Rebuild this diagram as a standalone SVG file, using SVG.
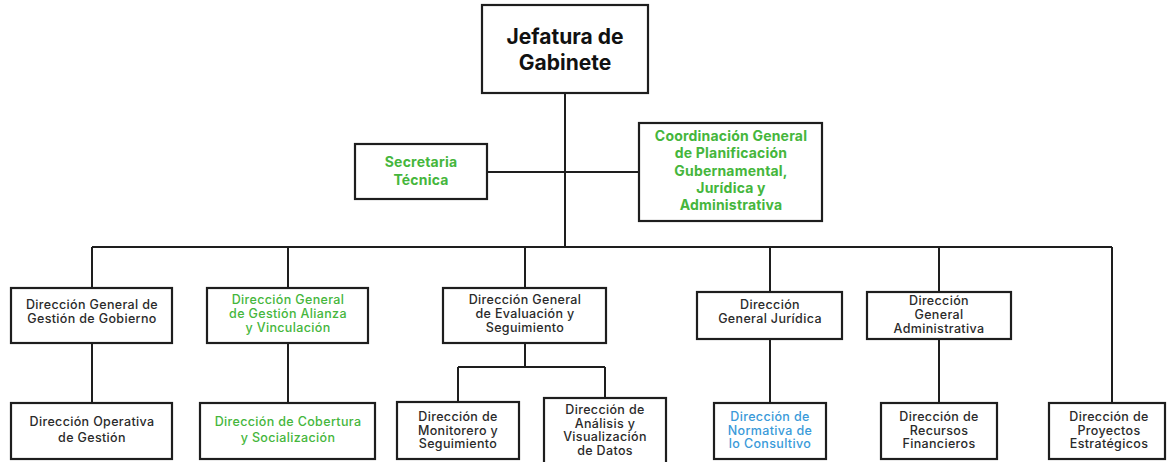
<svg xmlns="http://www.w3.org/2000/svg" width="1167" height="462" viewBox="0 0 1167 462">
<style>
.box{fill:#fff;stroke:#1e1e1e;stroke-width:2.2}
.ln{fill:none;stroke:#1e1e1e;stroke-width:2}
text{font-family:Inter,"Open Sans","Liberation Sans",sans-serif;text-anchor:middle;font-size:12.5px;letter-spacing:0.35px;fill:#2a2a2a;font-weight:500}
.title{font-size:21px;font-weight:700;fill:#111;letter-spacing:0}
.g{fill:#45b63c}
.gb{fill:#45b63c;font-weight:700;font-size:14px;letter-spacing:0.2px}
.b{fill:#3a9ad9}
</style>
<rect width="1167" height="462" fill="#fff"/>
<g id="connectors">
<path class="ln" d="M565 93V247M487 172H639M92 247H1112M92 247V288M288 247V288M525 247V288M770 247V292M939 247V292M1112 247V403"/>
<path class="ln" d="M92 343V403M288 343V403M525 343V367M458 367H605M458 367V402M605 367V398M770 339V403M939 339V403"/>
</g>
<g id="jefatura"><rect class="box" x="482" y="5" width="166" height="88"/><text class="title" x="565" y="44">Jefatura de</text><text class="title" x="565" y="70">Gabinete</text></g>
<g id="secretaria"><rect class="box" x="355" y="144" width="132" height="55"/><text class="gb" x="421" y="167">Secretaria</text><text class="gb" x="421" y="185">Técnica</text></g>
<g id="coordinacion"><rect class="box" x="639" y="123" width="183" height="98"/><text class="gb" x="731" y="141">Coordinación General</text><text class="gb" x="731" y="158">de Planificación</text><text class="gb" x="731" y="176">Gubernamental,</text><text class="gb" x="731" y="193">Jurídica y</text><text class="gb" x="731" y="210">Administrativa</text></g>
<g id="dg-gobierno"><rect class="box" x="11" y="288" width="161" height="55"/><text x="92" y="309">Dirección General de</text><text x="92" y="323">Gestión de Gobierno</text></g>
<g id="dg-alianza"><rect class="box" x="207" y="288" width="161" height="55"/><text class="g" x="288" y="304">Dirección General</text><text class="g" x="288" y="318">de Gestión Alianza</text><text class="g" x="288" y="332">y Vinculación</text></g>
<g id="dg-evaluacion"><rect class="box" x="443" y="288" width="163" height="55"/><text x="525" y="304">Dirección General</text><text x="525" y="318">de Evaluación y</text><text x="525" y="332">Seguimiento</text></g>
<g id="dg-juridica"><rect class="box" x="697" y="292" width="145" height="47"/><text x="770" y="309">Dirección</text><text x="770" y="323">General Jurídica</text></g>
<g id="dg-administrativa"><rect class="box" x="867" y="292" width="144" height="47"/><text x="939" y="305">Dirección</text><text x="939" y="319">General</text><text x="939" y="333">Administrativa</text></g>
<g id="d-operativa"><rect class="box" x="11" y="403" width="161" height="56"/><text x="92" y="426">Dirección Operativa</text><text x="92" y="442">de Gestión</text></g>
<g id="d-cobertura"><rect class="box" x="200" y="403" width="175" height="56"/><text class="g" x="288" y="426">Dirección de Cobertura</text><text class="g" x="288" y="442">y Socialización</text></g>
<g id="d-monitoreo"><rect class="box" x="397" y="402" width="122" height="57"/><text x="458" y="421">Dirección de</text><text x="458" y="434.5">Monitorero y</text><text x="458" y="448">Seguimiento</text></g>
<g id="d-analisis"><rect class="box" x="544" y="398" width="122" height="70"/><text x="605" y="414">Dirección de</text><text x="605" y="427.5">Análisis y</text><text x="605" y="441">Visualización</text><text x="605" y="454.5">de Datos</text></g>
<g id="d-normativa"><rect class="box" x="714" y="403" width="112" height="56"/><text class="b" x="770" y="421">Dirección de</text><text class="b" x="770" y="434.5">Normativa de</text><text class="b" x="770" y="448">lo Consultivo</text></g>
<g id="d-recursos"><rect class="box" x="881" y="403" width="116" height="56"/><text x="939" y="421">Dirección de</text><text x="939" y="434.5">Recursos</text><text x="939" y="448">Financieros</text></g>
<g id="d-proyectos"><rect class="box" x="1049" y="403" width="116" height="56"/><text x="1109" y="421">Dirección de</text><text x="1109" y="434.5">Proyectos</text><text x="1109" y="448">Estratégicos</text></g>
</svg>
